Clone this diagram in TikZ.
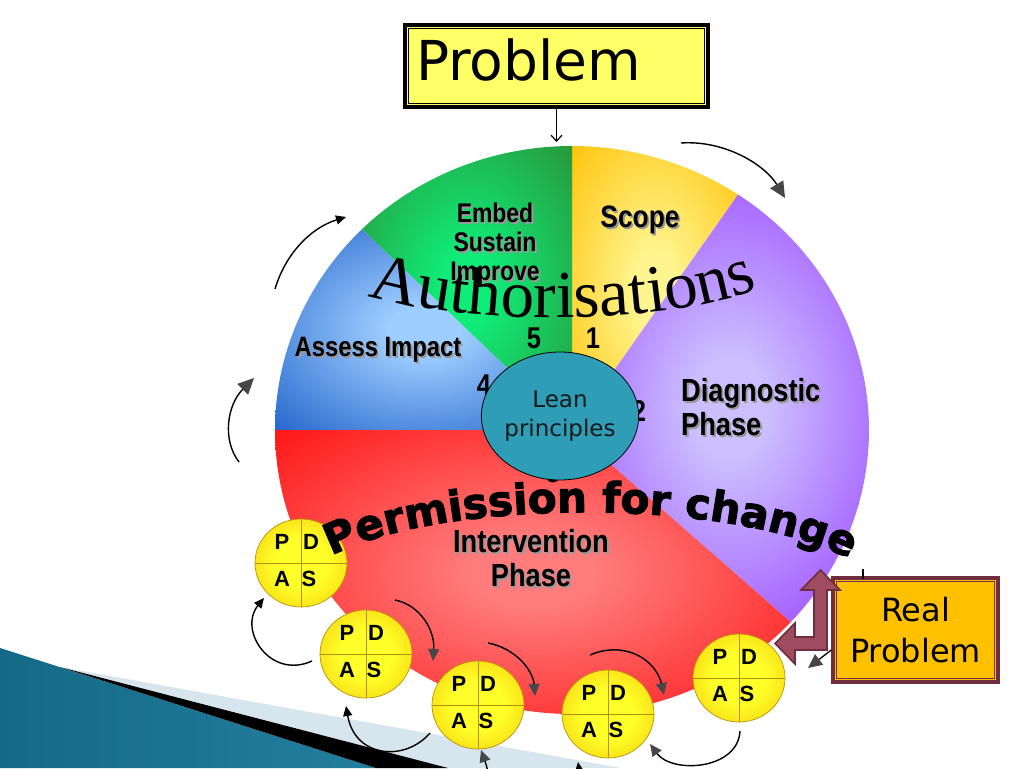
\documentclass[tikz,border=0pt]{standalone}
\usepackage{fontspec}
\setmainfont{DejaVu Sans}
\newfontfamily\narrowfont[FakeStretch=0.85]{Liberation Sans}
\newfontfamily\sansb{Liberation Sans}
\newfontfamily\authfont{Liberation Serif}
\newfontfamily\heavyfont[BoldFeatures={FakeBold=2.5}]{DejaVu Sans}
\usetikzlibrary{shapes.geometric,arrows.meta,decorations.text,calc}

\definecolor{probyellow}{HTML}{FFFF66}
\definecolor{rpfill}{HTML}{FFC000}
\definecolor{maroonline}{HTML}{6E2E3E}
\definecolor{maroonfill}{HTML}{9E4C5E}
\definecolor{leanteal}{HTML}{2E9DB5}
\definecolor{arrowgray}{HTML}{474747}
\definecolor{pdcain}{HTML}{FFFF2A}
\definecolor{pdcaout}{HTML}{F2C200}
\definecolor{pdcaedge}{HTML}{B8900A}
\definecolor{bgA}{HTML}{136A86}
\definecolor{bgB}{HTML}{45A9CA}
\definecolor{bgC}{HTML}{237F9E}
\definecolor{stripelight}{HTML}{D6E5EE}
\definecolor{yin}{HTML}{FFF590}
\definecolor{yout}{HTML}{FFC000}
\definecolor{gin}{HTML}{10EC78}
\definecolor{gout}{HTML}{2A9036}
\definecolor{bin}{HTML}{9ECDFF}
\definecolor{bout}{HTML}{1B5EC8}
\definecolor{rin}{HTML}{FF7C7C}
\definecolor{rout}{HTML}{FF0E0E}
\definecolor{pin}{HTML}{CBBFFF}
\definecolor{pout}{HTML}{9230FF}
\colorlet{shin}{white}
\colorlet{shout}{black}

\pgfdeclareradialshading[shin,shout]{softradial}{\pgfpoint{0bp}{0bp}}{color(0bp)=(shin); color(6bp)=(shin); color(38bp)=(shout); color(50bp)=(shout)}
\pgfdeclareradialshading{pdcashade}{\pgfpoint{0bp}{0bp}}{color(0bp)=(pdcain); color(14bp)=(pdcain); color(40bp)=(pdcaout); color(50bp)=(pdcaout)}

\newcommand\piesector[4]{\colorlet{shin}{#3}\colorlet{shout}{#4}%
  \shade[shading=softradial] (pc) -- ([shift={(pc)}]#1:297 and 284) arc[start angle=#1, end angle=#2, x radius=297, y radius=284] -- cycle;}

\newcommand\shlabel[4]{%
  \node[plabel,#3,text=black!40,xshift=1.8pt,yshift=-1.8pt] (#1sh) at (#2) {#4};
  \node[plabel,#3] (#1) at (#2) {#4};}

\newcommand\pdcacircle[2]{%
  \node[pdcanode] (#1) at (#2) {};
  \draw[pdcaline] (#1.north) -- (#1.south) (#1.west) -- (#1.east);
  \node[pdcaletter] (#1P) at ($(#1)+(-19,-21)$) {P};
  \node[pdcaletter] (#1D) at ($(#1)+(10,-21)$) {D};
  \node[pdcaletter] (#1A) at ($(#1)+(-19,16)$) {A};
  \node[pdcaletter] (#1S) at ($(#1)+(8,16)$) {S};}

\begin{document}
\begin{tikzpicture}[x=1pt,y=-1pt,
  pdcanode/.style={ellipse, minimum width=92pt, minimum height=88pt, inner sep=0pt, shade, shading=pdcashade, draw=pdcaedge, line width=0.7pt},
  pdcaline/.style={draw=pdcaedge, line width=0.8pt},
  pdcaletter/.style={font=\sansb\bfseries\fontsize{22}{22}\selectfont, inner sep=0pt},
  blkarrow/.style={draw=black, line width=1.4pt, -{Triangle[length=10pt,width=9pt]}},
  grayarrow/.style={draw=black, line width=1.4pt, -{Triangle[length=12pt,width=11pt,color=arrowgray]}},
  bigarrow/.style={draw=black, line width=1.4pt, -{Triangle[length=16pt,width=15pt,color=arrowgray]}},
  plabel/.style={inner sep=0pt, align=center, text=black},
  numlbl/.style={font=\narrowfont\bfseries\fontsize{30}{30}\selectfont, inner sep=0pt},
  probbox/.style={draw=black, line width=3.5pt, fill=probyellow, inner sep=0pt},
  rpbox/.style={draw=maroonline, line width=3.5pt, fill=rpfill, inner sep=0pt, align=center,
    font=\fontsize{32}{41}\selectfont}]
\useasboundingbox (0,0) rectangle (1024,768);
\clip (0,0) rectangle (1024,768);

% background wedge
\shade[left color=bgA, middle color=bgB, right color=bgC] (0,648) -- (376,768) -- (0,768) -- cycle;
\fill[stripelight] (60,667) -- (621,768) -- (448,768) -- cycle;
\fill[black] (60,667) -- (448,768) -- (376,768) -- cycle;

% pie
\coordinate (pc) at (572,430);
\piesector{-56}{-90}{yin}{yout}
\piesector{-90}{-135}{gin}{gout}
\piesector{-135}{-180}{bin}{bout}
\piesector{-180}{-317.5}{rin}{rout}
\piesector{42.5}{-56}{pin}{pout}

% labels
\shlabel{embed}{495,245}{font=\narrowfont\bfseries\fontsize{27}{29}\selectfont}{Embed\\Sustain\\Improve}
\shlabel{scope}{640,220}{font=\narrowfont\bfseries\fontsize{31}{31}\selectfont}{Scope}
\shlabel{assess}{378,350}{font=\narrowfont\bfseries\fontsize{28}{28}\selectfont}{Assess Impact}
\shlabel{diag}{681,407}{anchor=west, align=left, font=\narrowfont\bfseries\fontsize{32}{34}\selectfont}{Diagnostic\\Phase}
\shlabel{interv}{531,558}{font=\narrowfont\bfseries\fontsize{32}{34}\selectfont}{Intervention\\Phase}

% numbers
\node[numlbl] (n5) at (534,338) {5};
\node[numlbl] (n1) at (593,338) {1};
\node[numlbl] (n4) at (484,385) {4};
\node[numlbl] (n2) at (639,411) {2};
\node[numlbl] (n3) at (553,472) {3};

% centre
\node[ellipse, minimum width=145pt, minimum height=128pt, inner sep=0pt, fill=leanteal, draw=black, line width=0.8pt,
  align=center, text=black!90, font=\fontsize{23}{29}\selectfont] (lean) at (560,416) {Lean\\principles};

% Authorisations
\path[decorate, decoration={text along path, text align=center,
  text={|\authfont\fontsize{67}{67}\selectfont|Authorisations}}]
  (370,296) .. controls (468,326) and (662,326) .. (756,290);

% PDCA circles
\pdcacircle{c1}{301,563}
\pdcacircle{c2}{366,654}
\pdcacircle{c3}{478,705}
\pdcacircle{c4}{608,714}
\pdcacircle{c5}{739,678}

% Permission for change
\path[decorate, decoration={text along path, text align=center,
  text={|\heavyfont\bfseries\fontsize{42}{42}\selectfont|Permission for change}}]
  (333,555) .. controls (440,500) and (720,495) .. (848,558);

% Problem box
\node[probbox, minimum width=303pt, minimum height=82pt] (problem) at (556.5,66) {};
\draw[line width=0.8pt] ([shift={(5,5)}]problem.north west) rectangle ([shift={(-5,-5)}]problem.south east);
\node[anchor=base west, inner sep=0pt, font=\fontsize{55}{55}\selectfont] (probtext) at (416,81) {Problem};
\coordinate (pietop) at (556.5,142);
\draw[line width=1.2pt, -{Straight Barb[length=6pt,width=11pt]}] (problem) -- (pietop);

% Real Problem box
\node[rpbox, minimum width=165pt, minimum height=104pt] (rp) at (915.5,630) {Real\\Problem};
\draw[maroonline, line width=0.8pt] ([shift={(5,5)}]rp.north west) rectangle ([shift={(-5,-5)}]rp.south east);
\draw[line width=1.3pt] (863,569) -- (863,579);

% maroon bent arrow
\draw[fill=maroonfill, draw=maroonline, line width=1.6pt, line join=miter]
  (820.5,570) -- (840,590) -- (827,590) -- (827,650) -- (795,650) -- (795,664) -- (775,643.5)
  -- (795,623) -- (795,637) -- (814,637) -- (814,590) -- (801,590) -- cycle;

% arrows around the pie
\draw[bigarrow] (681,143) coordinate (a1s) .. controls (725,140) and (765,165) .. (785,198) coordinate (a1e);
\draw[blkarrow] (275,289) coordinate (a2s) .. controls (285,255) and (310,228) .. (346,217) coordinate (a2e);
\draw[bigarrow] (239,462) coordinate (a3s) .. controls (222,440) and (227,405) .. (254,378) coordinate (a3e);

% arrows among PDCA circles
\draw[blkarrow] (312,661) coordinate (b1s) .. controls (270,680) and (238,630) .. (264,598) coordinate (b1e);
\draw[grayarrow] (395,600) coordinate (b2s) .. controls (420,605) and (435,630) .. (433,661) coordinate (b2e);
\draw[grayarrow] (488,643) coordinate (b3s) .. controls (515,648) and (533,670) .. (535,696) coordinate (b3e);
\draw[grayarrow] (590,655) coordinate (b4s) .. controls (625,640) and (656,660) .. (664,695) coordinate (b4e);
\draw[grayarrow] (740,731) coordinate (b5s) .. controls (738,770) and (672,774) .. (650,744) coordinate (b5e);
\draw[blkarrow] (430,733) coordinate (b6s) .. controls (405,762) and (355,758) .. (346,706) coordinate (b6e);
\draw[grayarrow] (488,772) coordinate (b7s) .. controls (486,764) .. (481,750) coordinate (b7e);
\draw[blkarrow] (580,776) coordinate (b8s) -- (578,762) coordinate (b8e);
\draw[line width=1.3pt, -{Triangle[length=14pt,width=13pt,color=arrowgray]}] ([yshift=-20pt]rp.west) -- (808,668) coordinate (rpe);
\end{tikzpicture}
\end{document}
